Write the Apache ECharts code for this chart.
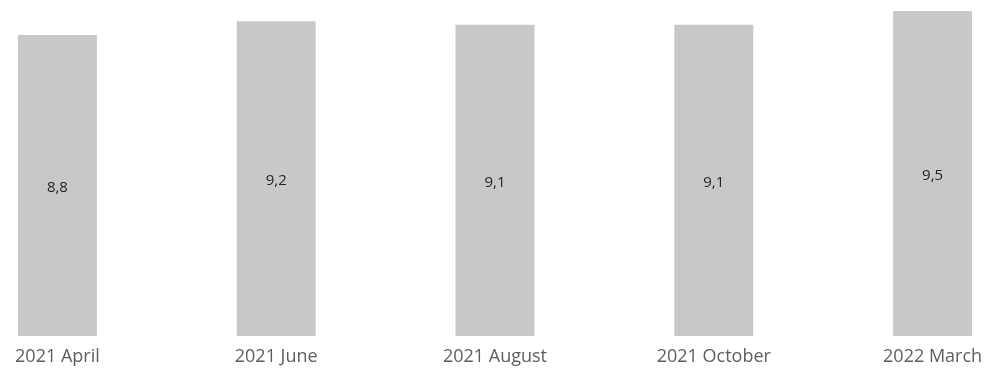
<!DOCTYPE html>
<html>
<head>
<meta charset="utf-8">
<script src="https://cdn.jsdelivr.net/npm/echarts@6/dist/echarts.min.js"></script>
<style>
  html, body { margin: 0; padding: 0; background: #fff; overflow: hidden; width: 995px; height: 369px; position: relative; }
  /* the plot extends slightly past the visible frame on the left, right and top */
  #chart { position: absolute; left: -52px; top: -6px; width: 1094px; height: 375px; }
</style>
</head>
<body>
<div id="chart"></div>
<script>
const categories = ['2021 April', '2021 June', '2021 August', '2021 October', '2022 March'];
const values = [8.8, 9.2, 9.1, 9.1, 9.5];

const chart = echarts.init(document.getElementById('chart'), null, { renderer: 'canvas' });
chart.setOption({
  animation: false,
  grid: { left: 0, right: 0, top: 0, bottom: 33, containLabel: false },
  xAxis: {
    type: 'category',
    data: categories,
    axisLine: { show: false },
    axisTick: { show: false },
    axisLabel: {
      interval: 0,
      margin: 12,
      color: '#605e5c',
      fontSize: 18,
      fontFamily: '"Open Sans", "Noto Sans", sans-serif'
    }
  },
  yAxis: {
    type: 'value',
    min: 0,
    max: 10,
    show: false,
    splitLine: { show: false }
  },
  series: [{
    type: 'bar',
    data: values,
    barWidth: 79,
    itemStyle: { color: '#c8c8c8' },
    label: {
      show: true,
      position: 'inside',
      offset: [0, 2],
      color: '#252423',
      fontSize: 15,
      fontFamily: '"Open Sans", "Noto Sans", sans-serif',
      formatter: p => p.value.toFixed(1).replace('.', ',')
    }
  }]
});
</script>
</body>
</html>
